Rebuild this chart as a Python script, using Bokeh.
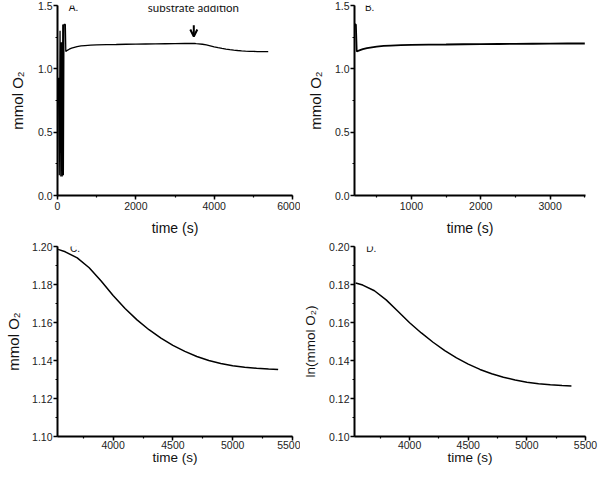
from bokeh.plotting import figure
from bokeh.layouts import gridplot
from bokeh.models import (SingleIntervalTicker, NumeralTickFormatter, Label, Arrow,
                          OpenHead, Range1d)
from bokeh.embed import file_html
from bokeh.resources import INLINE

# ---- data ----
# early calibration oscillations (panel A)
osc_t = [25, 45, 65, 85, 100, 120, 135, 150, 165, 200]
osc_v = [0.93, 0.16, 1.30, 0.15, 1.21, 0.15, 1.35, 0.16, 1.35, 1.35]
# recovery / baseline before substrate addition (panels A, B)
rec_t = [212, 250, 300, 360, 430, 500, 600, 700, 850, 1000, 1250, 1500, 1750,
         2000, 2250, 2500, 2750, 3000, 3250, 3500]
rec_v = [1.137, 1.146, 1.155, 1.163, 1.170, 1.176, 1.181, 1.184, 1.187, 1.189,
         1.191, 1.192, 1.194, 1.195, 1.196, 1.197, 1.198, 1.199, 1.200, 1.200]
# after substrate addition (panels A, C)
sub_t = [3540, 3600, 3700, 3800, 3900, 4000, 4100, 4200, 4300, 4400, 4500,
         4600, 4700, 4800, 4900, 5000, 5100, 5200, 5300, 5380]
sub_v = [1.1985, 1.1972, 1.1940, 1.1888, 1.1818, 1.1742, 1.1674, 1.1614, 1.1562,
         1.1518, 1.1480, 1.1448, 1.1421, 1.1400, 1.1384, 1.1372, 1.1364, 1.1359,
         1.1355, 1.1352]
# panel D: ln(mmol O2)
ln_v = [0.1808, 0.1797, 0.1767, 0.1719, 0.1659, 0.1599, 0.1545, 0.1496, 0.1452,
        0.1414, 0.1381, 0.1353, 0.1330, 0.1312, 0.1297, 0.1286, 0.1278, 0.1272,
        0.1268, 0.1266]

panel_labels = ["A.", "B.", "C.", "D."]
annot_text = "substrate addition"
annot_t = 3480

FONT = "Liberation Sans"


def style(p, xlabel, ylabel, xint, yint, yfmt, xlab_font, ylab_font,
          x_tstand, y_lstand, x_lstand):
    p.outline_line_color = None
    p.grid.visible = False
    p.background_fill_color = "white"
    p.border_fill_color = "white"
    p.xaxis.ticker = SingleIntervalTicker(interval=xint, num_minor_ticks=2)
    p.yaxis.ticker = SingleIntervalTicker(interval=yint, num_minor_ticks=2)
    p.yaxis.formatter = NumeralTickFormatter(format=yfmt)
    p.xaxis.formatter = NumeralTickFormatter(format="0")
    for ax in (p.xaxis, p.yaxis):
        ax.axis_line_width = 2
        ax.axis_line_color = "black"
        ax.major_tick_in = 0
        ax.major_tick_out = 4
        ax.minor_tick_in = 0
        ax.minor_tick_out = 2
        ax.major_tick_line_width = 1.5
        ax.minor_tick_line_width = 1.2
        ax.major_label_text_font = FONT
        ax.major_label_text_font_size = "10.5px"
        ax.major_label_text_color = "#222222"
        ax.axis_label_text_font = FONT
        ax.axis_label_text_font_style = "normal"
        ax.axis_label_text_color = "#111111"
    p.xaxis.axis_label = xlabel
    p.yaxis.axis_label = ylabel
    p.xaxis.axis_label_text_font_size = xlab_font
    p.yaxis.axis_label_text_font_size = ylab_font
    p.xaxis.major_label_standoff = x_tstand
    p.yaxis.major_label_standoff = 1
    p.xaxis.axis_label_standoff = x_lstand
    p.yaxis.axis_label_standoff = y_lstand


def panel_label(p, x, y, text):
    p.add_layout(Label(x=x, y=y, text=text, text_font=FONT, text_font_size="10px",
                       text_baseline="middle", text_align="left", text_color="#111111"))


# ---- Panel A ----
tA = osc_t + rec_t + sub_t
vA = osc_v + rec_v + sub_v
pA = figure(width=300, height=240, x_range=Range1d(0, 6000), y_range=Range1d(0, 1.5),
            output_backend="svg", toolbar_location=None,
            min_border_left=57, min_border_right=8, min_border_top=5, min_border_bottom=45)
pA.line(tA, vA, line_color="black", line_width=1.3)
style(pA, "time (s)", "mmol O₂", 2000, 0.5, "0.0", "14px", "15px", 2, 9, 7)
panel_label(pA, 290, 1.485, panel_labels[0])
pA.add_layout(Label(x=annot_t - 10, y=1.485, text=annot_text, text_font="Lato",
                    text_font_size="11.5px", text_align="center", text_baseline="middle",
                    text_color="#111111"))
pA.add_layout(Arrow(end=OpenHead(size=7, line_width=2, line_color="black"),
                    x_start=annot_t, y_start=1.345, x_end=annot_t, y_end=1.255,
                    line_width=2, line_color="black"))

# ---- Panel B ----
tB = osc_t[-2:] + rec_t
vB = osc_v[-2:] + rec_v
pB = figure(width=300, height=240, x_range=Range1d(180, 3510), y_range=Range1d(0, 1.5),
            output_backend="svg", toolbar_location=None,
            min_border_left=50, min_border_right=15, min_border_top=5, min_border_bottom=44)
pB.line(tB, vB, line_color="black", line_width=1.8)
style(pB, "time (s)", "mmol O₂", 1000, 0.5, "0.0", "14px", "15px", 2, 8, 7)
panel_label(pB, 330, 1.485, panel_labels[1])

# ---- Panel C ----
pC = figure(width=300, height=239, x_range=Range1d(3535, 5500), y_range=Range1d(1.10, 1.20),
            output_backend="svg", toolbar_location=None,
            min_border_left=56, min_border_right=8, min_border_top=6, min_border_bottom=43)
pC.line(sub_t, sub_v, line_color="black", line_width=1.5)
style(pC, "time (s)", "mmol O₂", 500, 0.02, "0.00", "13.5px", "15px", 0, 7, -2)
panel_label(pC, 3640, 1.199, panel_labels[2])

# ---- Panel D ----
pD = figure(width=300, height=239, x_range=Range1d(3530, 5500), y_range=Range1d(0.10, 0.20),
            output_backend="svg", toolbar_location=None,
            min_border_left=49, min_border_right=14, min_border_top=6, min_border_bottom=43)
pD.line(sub_t, ln_v, line_color="black", line_width=1.5)
style(pD, "time (s)", "ln(mmol O₂)", 500, 0.02, "0.00", "13.5px", "13.5px", 0, 8, -2)
panel_label(pD, 3630, 0.199, panel_labels[3])

grid = gridplot([[pA, pB], [pC, pD]], toolbar_location=None)

open("out.html", "w").write(file_html(grid, INLINE))
